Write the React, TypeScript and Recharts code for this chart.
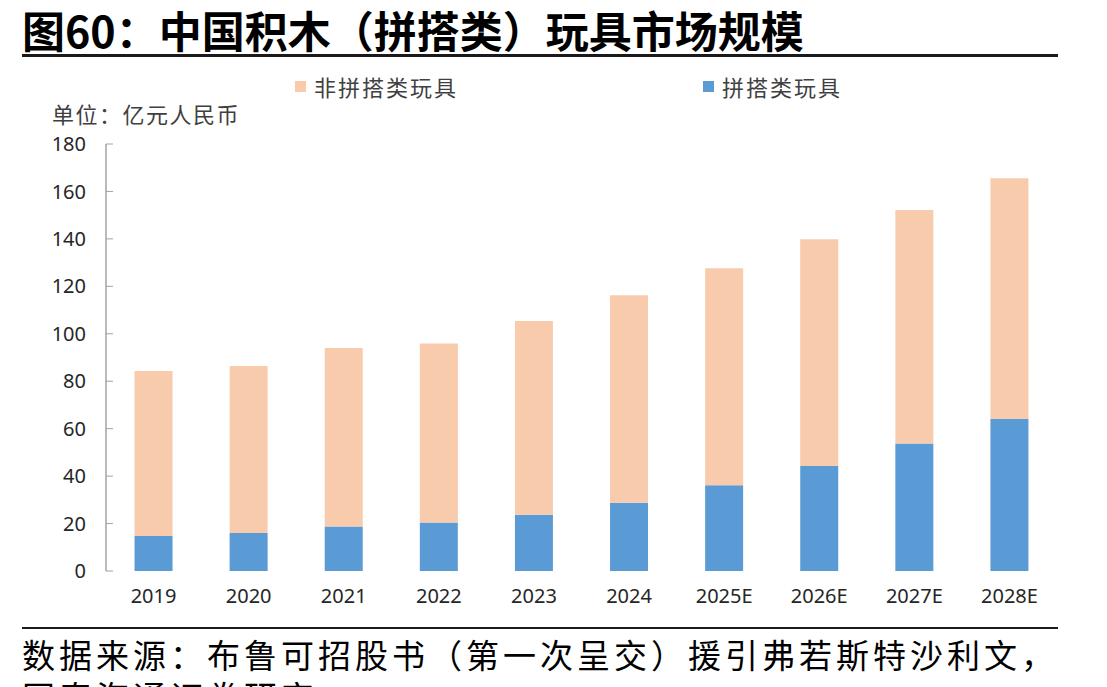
import React from 'react';
import { BarChart, Bar, XAxis, YAxis } from 'recharts';

const years = ['2019', '2020', '2021', '2022', '2023', '2024', '2025E', '2026E', '2027E', '2028E'];
const puzzleToys = [14.8, 16.0, 18.8, 20.4, 23.7, 28.8, 36.1, 44.3, 53.7, 64.1];
const nonPuzzleToys = [69.5, 70.4, 75.2, 75.5, 81.7, 87.4, 91.5, 95.5, 98.5, 101.5];
const yTicks = [0, 20, 40, 60, 80, 100, 120, 140, 160, 180];
const boundaryTicks = [0, 1, 2, 3, 4, 5, 6, 7, 8, 9, 10];

const series = [
  { key: 'nonPuzzle', name: '非拼搭类玩具', color: '#F8CBAD' },
  { key: 'puzzle', name: '拼搭类玩具', color: '#5B9BD5' },
];

const data = years.map((year, i) => ({
  year,
  puzzle: puzzleToys[i],
  nonPuzzle: nonPuzzleToys[i],
}));

const CJK = '"Noto Sans CJK SC", "Noto Sans", sans-serif';
const AXIS_GRAY = '#a3a3a3';

export default function App() {
  return (
    <div
      style={{
        position: 'absolute',
        left: 0,
        top: 0,
        width: 1107,
        height: 687,
        overflow: 'hidden',
        background: '#fff',
        fontFamily: CJK,
      }}
    >
      <div
        style={{
          position: 'absolute',
          left: 22,
          top: 6,
          fontSize: 43,
          lineHeight: '46px',
          fontWeight: 700,
          color: '#000',
          whiteSpace: 'nowrap',
        }}
      >
        图60：中国积木（拼搭类）玩具市场规模
      </div>
      <div style={{ position: 'absolute', left: 22, top: 54, width: 1036, height: 3, background: '#1a1a1a' }} />

      {/* legend */}
      {series.map((s, i) => (
        <div
          key={s.key}
          style={{
            position: 'absolute',
            left: i === 0 ? 295 : 703,
            top: 74,
            display: 'flex',
            alignItems: 'center',
            whiteSpace: 'nowrap',
          }}
        >
          <span style={{ width: 11, height: 11, background: s.color, marginRight: 8 }} />
          <span style={{ fontSize: 22, letterSpacing: 2, color: '#404040', lineHeight: '24px' }}>{s.name}</span>
        </div>
      ))}

      <div
        style={{
          position: 'absolute',
          left: 52,
          top: 101,
          fontSize: 22,
          letterSpacing: 1.5,
          color: '#404040',
          lineHeight: '24px',
          whiteSpace: 'nowrap',
        }}
      >
        单位：亿元人民币
      </div>

      <div style={{ position: 'absolute', left: 0, top: 0 }}>
        <BarChart
          width={1107}
          height={687}
          data={data}
          margin={{ top: 144, right: 50, bottom: 76, left: 46 }}
          barCategoryGap="30%"
        >
          <XAxis
            xAxisId="grid"
            type="number"
            domain={[0, 10]}
            ticks={boundaryTicks}
            tick={false}
            height={0}
            axisLine={{ stroke: AXIS_GRAY, strokeWidth: 1.5 }}
            tickLine={{ stroke: AXIS_GRAY }}
            tickSize={-6}
          />
          <XAxis
            xAxisId="cat"
            dataKey="year"
            height={40}
            axisLine={false}
            tickLine={false}
            tickSize={0}
            tickMargin={18}
            interval={0}
            tick={{ fontSize: 20, fill: '#262626', fontFamily: '"Noto Sans", sans-serif' }}
          />
          <YAxis
            width={60}
            domain={[0, 180]}
            ticks={yTicks}
            interval={0}
            axisLine={{ stroke: AXIS_GRAY, strokeWidth: 1.5 }}
            tickLine={{ stroke: AXIS_GRAY }}
            tickSize={-7}
            tickMargin={27}
            tick={{ fontSize: 20, fill: '#262626', fontFamily: '"Noto Sans", sans-serif' }}
          />
          <Bar xAxisId="cat" dataKey="puzzle" stackId="a" fill="#5B9BD5" isAnimationActive={false} />
          <Bar xAxisId="cat" dataKey="nonPuzzle" stackId="a" fill="#F8CBAD" isAnimationActive={false} />
        </BarChart>
      </div>

      <div style={{ position: 'absolute', left: 22, top: 627, width: 1036, height: 2, background: '#1a1a1a' }} />
      <div
        style={{
          position: 'absolute',
          left: 22,
          top: 637,
          fontSize: 33,
          lineHeight: '34px',
          letterSpacing: 4,
          color: '#000',
          whiteSpace: 'nowrap',
        }}
      >
        数据来源：布鲁可招股书（第一次呈交）援引弗若斯特沙利文，
      </div>
      <div
        style={{
          position: 'absolute',
          left: 22,
          top: 679,
          fontSize: 33,
          lineHeight: '34px',
          letterSpacing: 4,
          color: '#000',
          whiteSpace: 'nowrap',
        }}
      >
        国泰海通证券研究
      </div>
    </div>
  );
}
